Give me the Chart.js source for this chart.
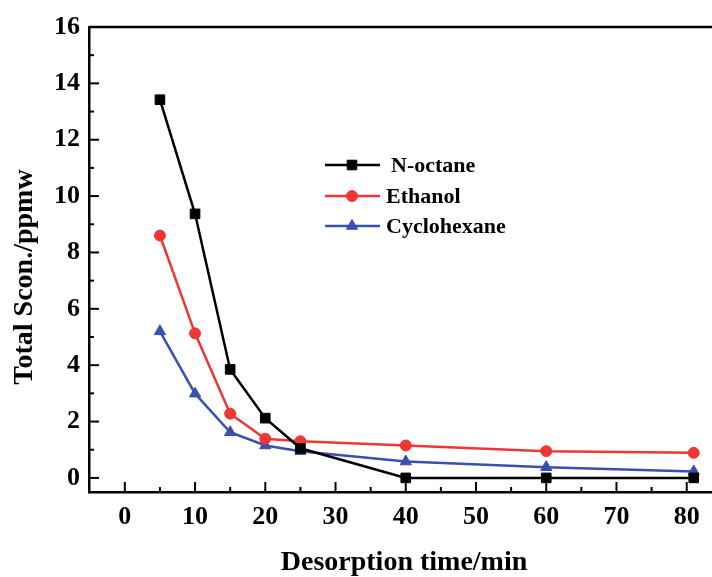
<!DOCTYPE html>
<html>
<head>
<meta charset="utf-8">
<script src="https://cdn.jsdelivr.net/npm/chart.js@4/dist/chart.umd.min.js"></script>
<style>
  html, body { margin: 0; padding: 0; background: #fff; }
  #wrap { width: 712px; height: 577px; }
</style>
</head>
<body>
<div id="wrap"><canvas id="desorptionChart" width="712" height="577"></canvas></div>
<script>
// Desorption time (min) and total sulfur concentration (ppmw)
const times = [5, 10, 15, 20, 25, 40, 60, 81];
const noctane = [13.42, 9.37, 3.85, 2.12, 1.05, 0, 0, 0];
const ethanol = [8.6, 5.13, 2.28, 1.39, 1.3, 1.15, 0.95, 0.89];
const cyclohexane = [5.2, 2.99, 1.62, 1.15, 0.95, 0.58, 0.38, 0.23];

const seriesNames = ['N-octane', 'Ethanol', 'Cyclohexane'];
const xTicks = [0, 10, 20, 30, 40, 50, 60, 70, 80];
const yTicks = [0, 2, 4, 6, 8, 10, 12, 14, 16];
const xTitle = 'Desorption time/min';
const yTitle = 'Total Scon./ppmw';

const FONT = "'Liberation Serif', 'Times New Roman', serif";
const colors = ['#000000', '#f03535', '#3a4fb0'];
const markers = ['rect', 'circle', 'triangle'];
const markerSize = [6.8, 5.5, 6.5];

function toPoints(ys) {
    return times.map(function (t, i) { return { x: t, y: ys[i] }; });
}

function makeDataset(i, ys) {
    return {
        label: seriesNames[i],
        data: toPoints(ys),
        borderColor: colors[i],
        backgroundColor: colors[i],
        borderWidth: 2.5,
        showLine: true,
        pointStyle: markers[i],
        pointRadius: markerSize[i],
        pointBorderWidth: 1,
        clip: false
    };
}

// Frame top line, inward ticks, axis titles and the legend
const decorPlugin = {
    id: 'decor',
    afterDatasetsDraw(chart) {
        const ctx = chart.ctx;
        const area = chart.chartArea;
        const xs = chart.scales.x;
        const ys = chart.scales.y;
        ctx.save();
        ctx.strokeStyle = '#000';
        ctx.lineWidth = 2.5;

        // top border
        ctx.beginPath();
        ctx.moveTo(area.left, area.top);
        ctx.lineTo(area.right, area.top);
        ctx.stroke();

        // x ticks (major every 10, minor every 5), pointing up
        ctx.lineWidth = 2;
        for (let v = 0; v <= 80; v += 5) {
            const px = xs.getPixelForValue(v);
            const len = (v % 10 === 0) ? 10 : 5;
            ctx.beginPath();
            ctx.moveTo(px, area.bottom);
            ctx.lineTo(px, area.bottom - len);
            ctx.stroke();
        }
        // y ticks (major every 2, minor every 1), pointing right
        for (let v = 0; v <= 16; v += 1) {
            const py = ys.getPixelForValue(v);
            const len = (v % 2 === 0) ? 10 : 5;
            ctx.beginPath();
            ctx.moveTo(area.left, py);
            ctx.lineTo(area.left + len, py);
            ctx.stroke();
        }

        // axis titles
        ctx.fillStyle = '#000';
        ctx.font = 'bold 28px ' + FONT;
        ctx.textAlign = 'center';
        ctx.textBaseline = 'middle';
        ctx.fillText(xTitle, 404, 563);
        ctx.save();
        ctx.translate(25, 277);
        ctx.rotate(-Math.PI / 2);
        ctx.fillText(yTitle, 0, 0);
        ctx.restore();

        // legend
        const rows = [165, 196, 226];
        const textX = [391, 386, 386];
        chart.data.datasets.forEach(function (ds, i) {
            const y = rows[i];
            ctx.strokeStyle = ds.borderColor;
            ctx.fillStyle = ds.backgroundColor;
            ctx.lineWidth = 2.5;
            ctx.beginPath();
            ctx.moveTo(325, y);
            ctx.lineTo(380, y);
            ctx.stroke();
            ctx.lineWidth = 1;
            Chart.helpers.drawPoint(ctx, {
                pointStyle: ds.pointStyle,
                radius: ds.pointRadius,
                rotation: 0,
                borderWidth: 1
            }, 352, y);
            ctx.fillStyle = '#000';
            ctx.font = 'bold 22px ' + FONT;
            ctx.textAlign = 'left';
            ctx.textBaseline = 'middle';
            ctx.fillText(ds.label, textX[i], y + 1);
        });
        ctx.restore();
    }
};

const chart = new Chart(document.getElementById('desorptionChart'), {
    type: 'scatter',
    data: {
        datasets: [
            makeDataset(0, noctane),
            makeDataset(1, ethanol),
            makeDataset(2, cyclohexane)
        ]
    },
    options: {
        responsive: false,
        animation: false,
        layout: { autoPadding: false, padding: { top: 27, right: 0, left: 0, bottom: 0 } },
        plugins: {
            legend: { display: false },
            tooltip: { enabled: false }
        },
        scales: {
            x: {
                type: 'linear',
                min: -5.1,
                max: 83.6,
                afterBuildTicks: function (scale) {
                    scale.ticks = xTicks.map(function (v) { return { value: v }; });
                },
                afterFit: function (scale) {
                    scale.height = 85;
                    scale.paddingLeft = 0;
                    scale.paddingRight = 0;
                },
                grid: { display: false, drawTicks: false },
                border: { display: true, color: '#000', width: 2.5 },
                ticks: {
                    color: '#000',
                    padding: 10,
                    maxRotation: 0,
                    font: { family: FONT, size: 26, weight: 'bold' }
                }
            },
            y: {
                type: 'linear',
                min: -0.5,
                max: 16,
                afterBuildTicks: function (scale) {
                    scale.ticks = yTicks.map(function (v) { return { value: v }; });
                },
                afterFit: function (scale) {
                    scale.width = 89;
                    scale.paddingTop = 0;
                    scale.paddingBottom = 0;
                },
                grid: { display: false, drawTicks: false },
                border: { display: true, color: '#000', width: 2.5 },
                ticks: {
                    color: '#000',
                    padding: 9,
                    font: { family: FONT, size: 26, weight: 'bold' }
                }
            }
        }
    },
    plugins: [decorPlugin]
});
</script>
</body>
</html>
